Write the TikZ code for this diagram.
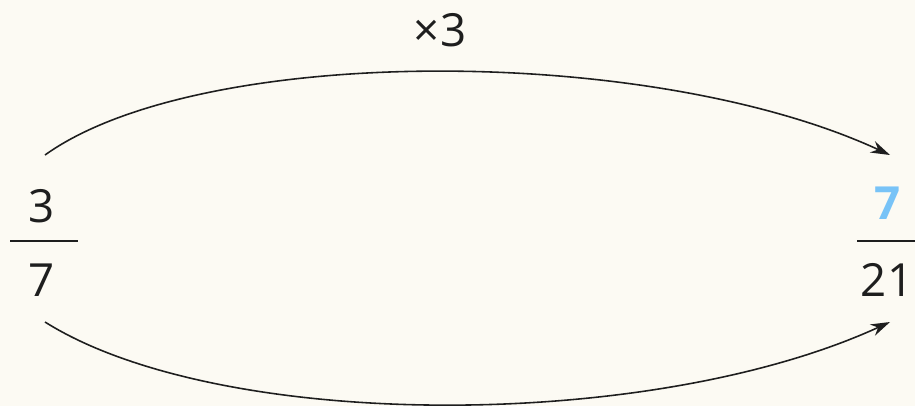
\documentclass[tikz,border=0pt]{standalone}
\usepackage{fontspec}
\setmainfont{Open Sans}
\usetikzlibrary{arrows.meta}
\definecolor{bgcolor}{HTML}{FCFAF3}
\definecolor{hilite}{HTML}{78C3F7}
\definecolor{inkcolor}{HTML}{1E1E1E}

\begin{document}
\begin{tikzpicture}[x=0.02cm, y=-0.02cm,
  num/.style={font=\fontsize{26}{30}\selectfont, inner sep=0pt, text=inkcolor},
  fracbar/.style={inkcolor, line width=1.1pt},
  bendarrow/.style={inkcolor, line width=0.9pt, -{Stealth[length=11pt, width=7pt]}}]
  \fill[bgcolor] (0,0) rectangle (915,406);
  \clip (0,0) rectangle (915,406);

  % left fraction
  \node[num] (lnum) at (42,206) {3};
  \node[num] (lden) at (42,280) {7};
  \draw[fracbar] (10,241) -- (78,241);

  % right fraction
  \node[num, text=hilite, font=\fontsize{26}{30}\selectfont\bfseries] (rnum) at (888,203) {7};
  \node[num] (rden) at (887,280) {21};
  \draw[fracbar] (857,241) -- (915,241);

  % arrows
  \coordinate (topstart) at (45,155);
  \coordinate (topend) at (890,155);
  \coordinate (botstart) at (45,322);
  \coordinate (botend) at (890,322);
  \draw[bendarrow] (topstart) .. controls (200,44) and (650,44) .. (topend);
  \draw[bendarrow] (botstart) .. controls (220,432) and (650,432) .. (botend);
  \node[num] (times) at (440,30) {×3};
\end{tikzpicture}
\end{document}
